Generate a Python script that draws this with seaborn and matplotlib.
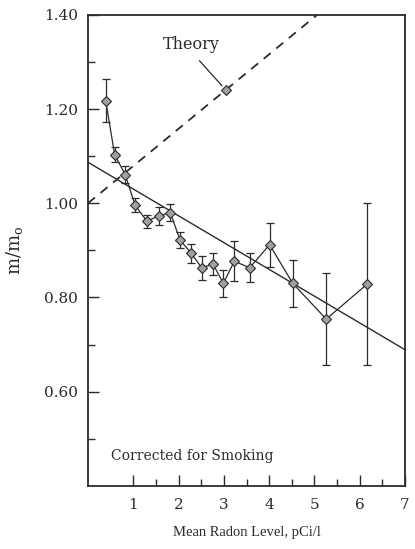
import pandas as pd
import seaborn as sns
import matplotlib.pyplot as plt
from matplotlib.ticker import FixedLocator

# mean radon level (pCi/l) and lung cancer rate ratio m/m0
radon = [0.39, 0.59, 0.82, 1.04, 1.30, 1.56, 1.82, 2.03, 2.28, 2.51,
         2.76, 2.99, 3.23, 3.57, 4.01, 4.52, 5.26, 6.16]
ratio = [1.218, 1.103, 1.061, 0.996, 0.962, 0.973, 0.980, 0.922, 0.894, 0.863,
         0.871, 0.830, 0.877, 0.863, 0.912, 0.830, 0.754, 0.828]
err = [0.045, 0.016, 0.018, 0.015, 0.014, 0.020, 0.018, 0.018, 0.020, 0.026,
       0.023, 0.028, 0.043, 0.031, 0.047, 0.050, 0.097, 0.172]

# least squares fit line
fit_x = [0.0, 7.0]
fit_y = [1.087, 0.689]

# linear no-threshold theory
theory_x = [0.0, 5.06]
theory_y = [1.0, 1.40]
theory_pt_x = [3.04]
theory_pt_y = [1.241]

df = pd.DataFrame({"radon": radon, "ratio": ratio, "err": err})

sns.set_style("ticks")
plt.rcParams["font.family"] = ["DejaVu Serif"]
plt.rcParams["mathtext.fontset"] = "dejavuserif"

fig = plt.figure(figsize=(4.15, 5.49), dpi=100)
ax = fig.add_axes([0.212, 0.115, 0.764, 0.858])

ink = "#2b2b2b"

# fit line and theory line
sns.lineplot(x=fit_x, y=fit_y, color=ink, lw=1.0, ax=ax)
sns.lineplot(x=theory_x, y=theory_y, color=ink, lw=1.3, ax=ax,
             dashes=False, linestyle=(0, (5, 4)))
ax.plot(theory_pt_x, theory_pt_y, marker="D", ms=5.5, color="#a0a0a0",
        mec=ink, mew=0.8, ls="none")

# measured points
ax.errorbar(df["radon"], df["ratio"], yerr=df["err"], fmt="none",
            ecolor=ink, elinewidth=0.9, capsize=3, capthick=0.9)
sns.lineplot(data=df, x="radon", y="ratio", color=ink, lw=0.9, ax=ax,
             marker="D", markersize=5.5, markerfacecolor="#a0a0a0",
             markeredgecolor=ink, markeredgewidth=0.8)

ax.text(2.28, 1.336, "Theory", fontsize=11.5, ha="center", va="center", color=ink)
ax.annotate("", xy=(3.0, 1.245), xytext=(2.42, 1.307),
            arrowprops=dict(arrowstyle="-", color=ink, lw=0.9))
ax.text(0.5, 0.463, "Corrected for Smoking", fontsize=10, ha="left",
        va="center", color=ink)

ax.set_xlim(0, 7)
ax.set_ylim(0.40, 1.40)
ax.set_xticks([1, 2, 3, 4, 5, 6, 7])
ax.set_xticklabels(["1", "2", "3", "4", "5", "6", "7"])
ax.xaxis.set_minor_locator(FixedLocator([1.5, 2.5, 3.5, 4.5, 5.5, 6.5]))
ax.set_yticks([0.6, 0.8, 1.0, 1.2, 1.4])
ax.set_yticklabels(["0.60", "0.80", "1.00", "1.20", "1.40"])
ax.yaxis.set_minor_locator(FixedLocator([0.5, 0.7, 0.9, 1.1, 1.3]))
ax.tick_params(which="major", direction="in", length=8, width=1.0,
               labelsize=11, colors=ink, pad=7)
ax.tick_params(axis="x", which="major", pad=9)
ax.tick_params(which="minor", direction="in", length=5, width=1.0, colors=ink)

for s in ax.spines.values():
    s.set_visible(True)
    s.set_linewidth(1.3)
    s.set_color(ink)

ax.set_xlabel("Mean Radon Level, pCi/l", fontsize=10.5, color=ink, labelpad=10,
              family="Liberation Serif")
ax.set_ylabel(r"m/m$_{\mathrm{o}}$", fontsize=13, color=ink, labelpad=14)

fig.savefig("out.png", dpi=100)
plt.close(fig)
